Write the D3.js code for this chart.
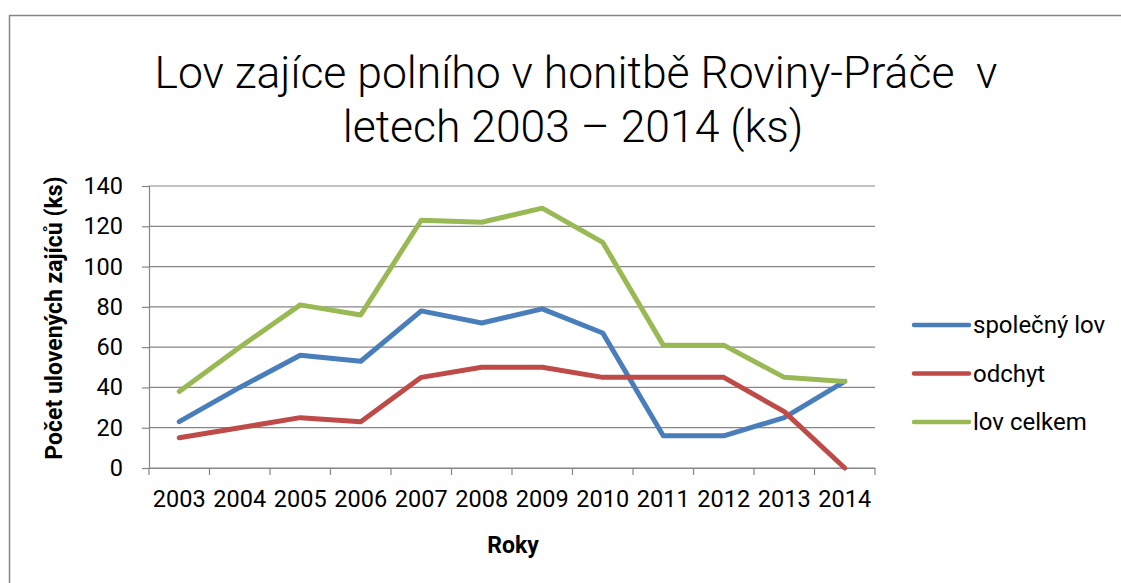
<!DOCTYPE html>
<html lang="cs">
<head>
<meta charset="utf-8">
<script src="https://cdn.jsdelivr.net/npm/d3@7"></script>
<style>
  html, body { margin: 0; padding: 0; background: #fff; }
  svg { display: block; font-family: Roboto, "Liberation Sans", sans-serif; }
</style>
</head>
<body>
<div id="graf"></div>
<script>
// Data
const roky = ['2003', '2004', '2005', '2006', '2007', '2008', '2009', '2010', '2011', '2012', '2013', '2014'];
const spolecnyLov = [23, 40, 56, 53, 78, 72, 79, 67, 16, 16, 25, 43];
const odchyt = [15, 20, 25, 23, 45, 50, 50, 45, 45, 45, 28, 0];
const lovCelkem = [38, 60, 81, 76, 123, 122, 129, 112, 61, 61, 45, 43];
const yTicks = [0, 20, 40, 60, 80, 100, 120, 140];

const serie = [
  { nazev: 'společný lov', hodnoty: spolecnyLov, barva: '#4A7EBB' },
  { nazev: 'odchyt', hodnoty: odchyt, barva: '#BE4B48' },
  { nazev: 'lov celkem', hodnoty: lovCelkem, barva: '#98B954' }
];

(function () {
  const W = 1121, H = 583;
  const plocha = { left: 149, right: 875, top: 186, bottom: 468 };
  const SEDA = '#868686';

  const svg = d3.select('#graf').append('svg')
    .attr('width', W).attr('height', H);

  // rámeček grafu
  svg.append('rect')
    .attr('x', 9.5).attr('y', 15.5)
    .attr('width', W).attr('height', H)
    .attr('fill', '#fff').attr('stroke', SEDA).attr('stroke-width', 1.5);

  // nadpis
  const nadpis = svg.append('text')
    .attr('text-anchor', 'middle')
    .attr('font-size', 44.5)
    .attr('font-weight', 300)
    .attr('fill', '#000');
  nadpis.append('tspan').attr('x', 576).attr('y', 88).attr('xml:space', 'preserve')
    .text('Lov zajíce polního v honitbě Roviny-Práče  v');
  nadpis.append('tspan').attr('x', 573).attr('y', 142)
    .text('letech 2003 – 2014 (ks)');

  const x = d3.scaleBand().domain(roky).range([plocha.left, plocha.right]);
  const y = d3.scaleLinear().domain([0, 140]).range([plocha.bottom, plocha.top]);

  // mřížka
  svg.append('g')
    .selectAll('line')
    .data(yTicks)
    .join('line')
    .attr('x1', plocha.left).attr('x2', plocha.right)
    .attr('y1', (d) => y(d)).attr('y2', (d) => y(d))
    .attr('stroke', SEDA).attr('stroke-width', 1.2);

  // osa y
  const osaY = svg.append('g')
    .attr('transform', `translate(${plocha.left},0)`)
    .call(d3.axisLeft(y).tickValues(yTicks).tickSize(7).tickPadding(19));
  osaY.select('.domain').attr('stroke', SEDA).attr('stroke-width', 1.2);
  osaY.selectAll('.tick line').attr('stroke', SEDA).attr('stroke-width', 1.2);
  osaY.selectAll('.tick text')
    .attr('font-size', 23.5).attr('font-family', 'Roboto').attr('fill', '#000');

  // osa x - značky mezi kategoriemi
  const osaX = svg.append('g')
    .attr('transform', `translate(0,${plocha.bottom})`)
    .call(d3.axisBottom(x).tickSize(0).tickPadding(22));
  osaX.select('.domain').attr('stroke', SEDA).attr('stroke-width', 1.2);
  osaX.selectAll('.tick text')
    .attr('font-size', 23.5).attr('font-family', 'Roboto').attr('fill', '#000');
  const hranice = roky.map((r) => x(r)).concat([x.range()[1]]);
  osaX.append('g')
    .selectAll('line')
    .data(hranice)
    .join('line')
    .attr('x1', (d) => d).attr('x2', (d) => d)
    .attr('y1', 0).attr('y2', 7)
    .attr('stroke', SEDA).attr('stroke-width', 1.2);

  // popisky os
  svg.append('text')
    .attr('x', 513).attr('y', 553)
    .attr('text-anchor', 'middle')
    .attr('font-size', 23).attr('font-weight', 'bold')
    .text('Roky');
  svg.append('text')
    .attr('transform', 'translate(62,318) rotate(-90)')
    .attr('text-anchor', 'middle')
    .attr('font-size', 23).attr('font-weight', 'bold')
    .text('Počet ulovených zajíců (ks)');

  // čáry
  const cara = d3.line()
    .x((d, i) => x(roky[i]) + x.bandwidth() / 2)
    .y((d) => y(d));

  svg.append('g')
    .selectAll('path')
    .data(serie)
    .join('path')
    .attr('d', (s) => cara(s.hodnoty))
    .attr('fill', 'none')
    .attr('stroke', (s) => s.barva)
    .attr('stroke-width', 5)
    .attr('stroke-linejoin', 'round')
    .attr('stroke-linecap', 'round');

  // legenda
  const legenda = svg.append('g')
    .selectAll('g')
    .data(serie)
    .join('g')
    .attr('transform', (s, i) => `translate(914,${325 + i * 48.5})`);
  legenda.append('line')
    .attr('x1', 0).attr('x2', 55)
    .attr('stroke', (s) => s.barva)
    .attr('stroke-width', 4.5)
    .attr('stroke-linecap', 'round');
  legenda.append('text')
    .attr('x', 59).attr('dy', '0.35em')
    .attr('font-size', 24)
    .text((s) => s.nazev);
})();
</script>
</body>
</html>
